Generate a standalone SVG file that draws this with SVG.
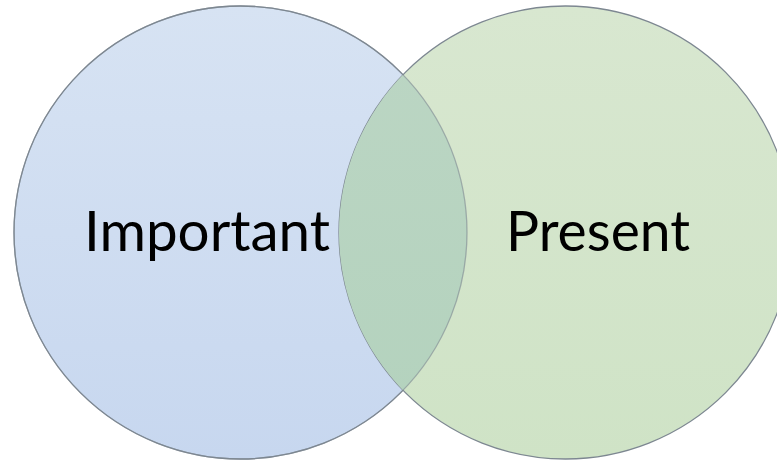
<svg xmlns="http://www.w3.org/2000/svg" width="777" height="462" viewBox="0 0 777 462">
  <style>
    .ring { stroke: #7d8791; stroke-width: 1.3; }
    .label { font-family: "Lato", "Open Sans", "Liberation Sans", sans-serif; font-size: 56px; fill: #000000; }
  </style>
  <defs>
    <linearGradient id="blueFill" x1="0" y1="0" x2="0" y2="1">
      <stop offset="0" stop-color="#d7e3f3"/>
      <stop offset="1" stop-color="#c7d7ef"/>
    </linearGradient>
    <linearGradient id="greenFill" x1="0" y1="0" x2="0" y2="1">
      <stop offset="0" stop-color="#d8e7d0"/>
      <stop offset="1" stop-color="#cfe3c6"/>
    </linearGradient>
    <linearGradient id="overlapFill" x1="0" y1="0" x2="0" y2="1">
      <stop offset="0" stop-color="#bcd6c4"/>
      <stop offset="1" stop-color="#b3d2bd"/>
    </linearGradient>
    <clipPath id="leftClip">
      <circle cx="240.5" cy="232.5" r="226.5"/>
    </clipPath>
  </defs>
  <rect width="777" height="462" fill="#ffffff"/>

  <g id="important">
    <circle class="ring" cx="240.5" cy="232.5" r="226.5" fill="url(#blueFill)"/>
  </g>
  <g id="present">
    <circle class="ring" cx="565.5" cy="232.5" r="226.5" fill="url(#greenFill)"/>
  </g>
  <g id="overlap">
    <circle cx="565.5" cy="232.5" r="226.5" fill="url(#overlapFill)" clip-path="url(#leftClip)"/>
    <circle cx="240.5" cy="232.5" r="226.5" fill="none" class="ring" stroke-opacity="0.6"/>
  </g>

  <g id="labels">
    <text class="label" x="84" y="251" textLength="246" lengthAdjust="spacingAndGlyphs">Important</text>
    <text class="label" x="506" y="251" textLength="184" lengthAdjust="spacingAndGlyphs">Present</text>
  </g>
</svg>
